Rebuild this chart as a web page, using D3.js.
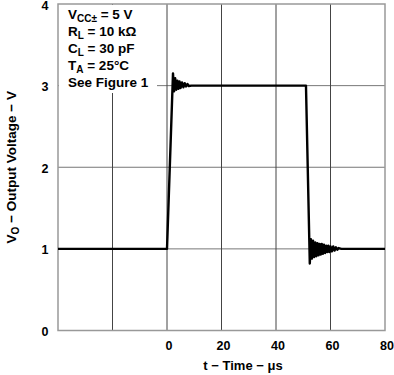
<!DOCTYPE html>
<meta charset="utf-8">
<script src="https://d3js.org/d3.v7.min.js"></script>
<style>
  body { margin: 0; background: #fff; }
  text { font-family: "Liberation Sans", Arial, sans-serif; font-weight: bold; fill: #000; }
</style>
<div id="chart"></div>
<script>
// axis ticks
var xTicks = [0, 20, 40, 60, 80];
var xGrid = [-20, 0, 20, 40, 60];
var yTicks = [0, 1, 2, 3, 4];

// output waveform (time in us, volts)
var traceT = [-40, 0, 2.2, 2.6, 3.0, 3.4, 3.8, 4.2, 4.6, 5.0, 5.5, 6.0, 6.5, 7.0, 7.5, 8.0, 9.0,
  51.0, 52.4, 52.8, 53.2, 53.6, 54.0, 54.4, 54.8, 55.2, 55.6, 56.0, 56.4, 56.8, 57.2, 57.6,
  58.0, 58.4, 58.8, 59.2, 59.6, 60.0, 60.5, 61.0, 61.5, 62.0, 62.5, 63.0, 64.0, 80];
var traceV = [1, 1, 3.15, 2.93, 3.09, 2.95, 3.06, 2.96, 3.05, 2.97, 3.04, 2.98, 3.03, 2.99, 3.02, 2.995, 3.0,
  3.0, 0.82, 1.12, 0.88, 1.1, 0.9, 1.08, 0.91, 1.07, 0.92, 1.06, 0.93, 1.06, 0.94, 1.05,
  0.95, 1.04, 0.96, 1.04, 0.96, 1.03, 0.97, 1.03, 0.98, 1.02, 0.99, 1.01, 1.0, 1.0];

var notes = [["V", "CC\u00b1", " = 5 V"], ["R", "L", " = 10 k\u03a9"], ["C", "L", " = 30 pF"],
  ["T", "A", " = 25\u00b0C"], ["See Figure 1", "", ""]];

var W = 394, H = 375;
var pL = 58, pR = 385, pT = 4, pB = 330.5;

var svg = d3.select("#chart").append("svg")
    .attr("width", W).attr("height", H);

var x = d3.scaleLinear().domain([-40, 80]).range([pL, pR]);
var y = d3.scaleLinear().domain([0, 4]).range([pB, pT]);

// horizontal grid
svg.append("g").selectAll("line")
    .data([1, 2, 3])
    .enter().append("line")
    .attr("x1", pL).attr("x2", pR)
    .attr("y1", d => y(d)).attr("y2", d => y(d))
    .attr("stroke", "#777").attr("stroke-width", 1);

// vertical grid
svg.append("g").selectAll("line")
    .data(xGrid)
    .enter().append("line")
    .attr("x1", d => x(d)).attr("x2", d => x(d))
    .attr("y1", pT).attr("y2", pB)
    .attr("stroke", "#444").attr("stroke-width", 1);

// white box behind the conditions
svg.append("rect")
    .attr("x", pL + 1).attr("y", pT + 1)
    .attr("width", 98).attr("height", 88)
    .attr("fill", "#fff");

// frame
svg.append("rect")
    .attr("x", pL).attr("y", pT)
    .attr("width", pR - pL).attr("height", pB - pT)
    .attr("fill", "none").attr("stroke", "#999").attr("stroke-width", 1.5);

// trace
var pts = traceT.map((t, i) => [t, traceV[i]]);
svg.append("path")
    .datum(pts)
    .attr("fill", "none")
    .attr("stroke", "#000")
    .attr("stroke-width", 2.4)
    .attr("stroke-linejoin", "round")
    .attr("d", d3.line().x(d => x(d[0])).y(d => y(d[1])));

// conditions text
var nt = svg.append("g").selectAll("text")
    .data(notes)
    .enter().append("text")
    .attr("x", 68)
    .attr("y", (d, i) => 18.5 + i * 17.2)
    .attr("font-size", 13.5);
nt.append("tspan").text(d => d[0]);
nt.append("tspan").attr("dy", 3).attr("font-size", 10).text(d => d[1]);
nt.append("tspan").attr("dy", -3).text(d => d[2]);

// y tick labels
svg.append("g").selectAll("text")
    .data(yTicks)
    .enter().append("text")
    .attr("x", 48.5).attr("y", d => y(d) + 5.5)
    .attr("text-anchor", "end")
    .attr("font-size", 12.5)
    .text(d => d);

// x tick labels
svg.append("g").selectAll("text")
    .data(xTicks)
    .enter().append("text")
    .attr("x", d => x(d) + 2).attr("y", 350)
    .attr("text-anchor", "middle")
    .attr("font-size", 12.5)
    .text(d => d);

// axis titles
svg.append("text")
    .attr("x", 243).attr("y", 370)
    .attr("text-anchor", "middle")
    .attr("font-size", 13)
    .text("t \u2212 Time \u2212 \u03bcs");

var yt = svg.append("text")
    .attr("transform", "translate(16," + y(2) + ") rotate(-90)")
    .attr("text-anchor", "middle")
    .attr("font-size", 13.5);
yt.append("tspan").text("V");
yt.append("tspan").attr("dy", 3).attr("font-size", 10).text("O");
yt.append("tspan").attr("dy", -3).text(" \u2212 Output Voltage \u2212 V");
</script>
